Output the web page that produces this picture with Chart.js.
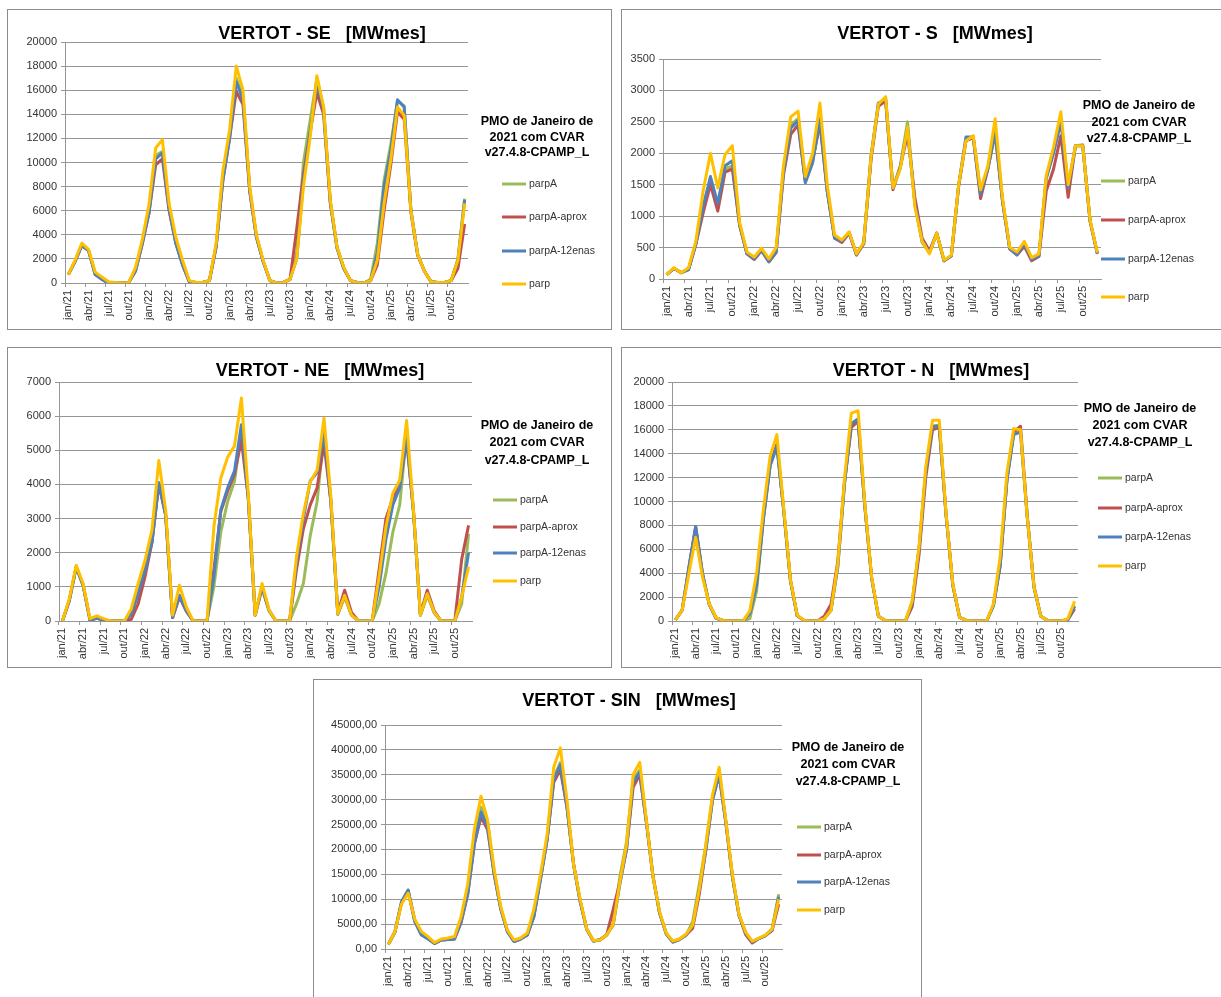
<!DOCTYPE html>
<html>
<head>
<meta charset="utf-8">
<script src="https://cdn.jsdelivr.net/npm/chart.js@4.4.0/dist/chart.umd.min.js"></script>
<style>
  html, body { margin: 0; padding: 0; background: #fff; overflow: hidden; }
  .panel { position: absolute; border: 1px solid #8c8c8c; box-sizing: border-box; background: #fff; overflow: hidden; }
  .panel canvas { display: block; }
</style>
</head>
<body>
<div class="panel" style="left:7px;top:9px;width:605px;height:321px"><canvas id="cSE" width="603" height="319"></canvas></div>
<div class="panel" style="left:621px;top:9px;width:605px;height:321px"><canvas id="cS" width="603" height="319"></canvas></div>
<div class="panel" style="left:7px;top:347px;width:605px;height:321px"><canvas id="cNE" width="603" height="319"></canvas></div>
<div class="panel" style="left:621px;top:347px;width:605px;height:321px"><canvas id="cN" width="603" height="319"></canvas></div>
<div class="panel" style="left:313px;top:679px;width:609px;height:330px"><canvas id="cSIN" width="607" height="328"></canvas></div>

<script>
// eixo x: meses jan/21 .. dez/25
const months = ['jan', 'fev', 'mar', 'abr', 'mai', 'jun', 'jul', 'ago', 'set', 'out', 'nov', 'dez'];
const years = ['21', '22', '23', '24', '25'];
const seriesNames = ['parpA', 'parpA-aprox', 'parpA-12enas', 'parp'];
const legendTitle = ['PMO de Janeiro de', '2021 com CVAR', 'v27.4.8-CPAMP_L'];

// SE
const seParpA = [
    700, 1800, 3200, 2700, 800, 400, 50, 0, 0, 50, 1100, 3400,
    6000, 10600, 10900, 6300, 3500, 1700, 150, 50, 50, 200, 3100, 8900,
    12300, 17000, 15500, 7800, 3900, 1800, 200, 0, 50, 300, 2500, 10000,
    13500, 17000, 14500, 6800, 3000, 1300, 200, 50, 0, 300, 3300, 8500,
    11500, 15100, 14700, 6100, 2400, 1000, 100, 50, 50, 200, 2000, 7000
];
const seAprox = [
    700, 1800, 3100, 2700, 700, 300, 0, 0, 0, 50, 1000, 3200,
    5800, 9800, 10300, 6000, 3300, 1500, 100, 50, 50, 200, 3000, 8500,
    12000, 15900, 14800, 7600, 3800, 1800, 200, 0, 50, 300, 4500, 9000,
    12500, 15800, 14000, 6600, 2900, 1200, 200, 50, 0, 200, 1500, 6000,
    9800, 14200, 13600, 5900, 2300, 1000, 100, 50, 50, 200, 1200, 4900
];
const se12enas = [
    700, 1800, 3100, 2700, 700, 300, 0, 0, 0, 50, 1000, 3300,
    5800, 10300, 10800, 6100, 3300, 1500, 100, 50, 50, 200, 3000, 8500,
    12000, 16700, 15200, 7700, 3800, 1800, 200, 0, 50, 300, 2000, 8500,
    12500, 16600, 14400, 6700, 2900, 1200, 200, 50, 0, 200, 2500, 8000,
    11000, 15200, 14600, 6000, 2400, 1000, 100, 50, 50, 200, 1900, 6900
];
const seParp = [
    700, 1900, 3300, 2800, 900, 500, 100, 50, 0, 50, 1300, 3600,
    6500, 11200, 11900, 6600, 3800, 1900, 200, 50, 50, 200, 3300, 9300,
    12700, 18000, 16000, 8000, 4000, 1900, 200, 0, 50, 300, 2000, 8000,
    12100, 17200, 14600, 6900, 3000, 1300, 200, 50, 0, 200, 1900, 6600,
    10200, 14600, 13900, 6000, 2400, 1000, 100, 50, 50, 200, 1900, 6600
];

// S
const sParpA = [
    70, 170, 100, 160, 560, 1150, 1600, 1150, 1750, 1800, 860, 410,
    330, 470, 290, 450, 1750, 2450, 2550, 1560, 1900, 2450, 1400, 660,
    590, 740, 390, 570, 1950, 2780, 2850, 1450, 1800, 2500, 1200, 580,
    420, 720, 290, 370, 1480, 2200, 2250, 1380, 1750, 2300, 1250, 480,
    400, 560, 320, 380, 1600, 2050, 2550, 1480, 2120, 2120, 920, 410
];
const sAprox = [
    70, 170, 100, 150, 550, 1050, 1500, 1080, 1700, 1750, 850, 400,
    310, 450, 270, 420, 1650, 2300, 2450, 1550, 1880, 2500, 1400, 650,
    580, 730, 380, 560, 1900, 2750, 2830, 1420, 1780, 2300, 1300, 650,
    450, 730, 290, 370, 1480, 2200, 2250, 1280, 1750, 2350, 1250, 480,
    380, 520, 290, 360, 1400, 1750, 2280, 1300, 2120, 2130, 920, 400
];
const s12enas = [
    70, 170, 100, 150, 560, 1150, 1630, 1200, 1800, 1880, 860, 400,
    320, 460, 280, 430, 1700, 2400, 2520, 1530, 1850, 2550, 1400, 650,
    600, 740, 390, 570, 1950, 2800, 2860, 1440, 1770, 2400, 1200, 600,
    420, 730, 290, 370, 1490, 2260, 2260, 1350, 1760, 2350, 1250, 480,
    390, 560, 310, 370, 1600, 2000, 2500, 1450, 2120, 2120, 930, 410
];
const sParp = [
    70, 180, 100, 180, 600, 1400, 2000, 1450, 1980, 2120, 900, 430,
    350, 490, 320, 500, 1800, 2580, 2670, 1630, 2000, 2800, 1500, 700,
    620, 750, 400, 580, 1950, 2780, 2900, 1450, 1750, 2420, 1150, 600,
    400, 730, 300, 380, 1500, 2200, 2280, 1420, 1800, 2550, 1300, 500,
    430, 600, 340, 400, 1650, 2100, 2660, 1500, 2120, 2120, 940, 420
];

// NE
const neParpA = [
    0, 600, 1580, 1050, 30, 80, 30, 0, 0, 0, 200, 800,
    1500, 2300, 4050, 3100, 100, 750, 300, 0, 0, 0, 1000, 2600,
    3500, 4100, 5600, 3600, 170, 950, 300, 0, 0, 0, 500, 1100,
    2500, 3500, 5500, 3500, 200, 700, 170, 0, 0, 0, 500, 1400,
    2600, 3400, 5500, 3200, 170, 750, 250, 0, 0, 0, 500, 2550
];
const neAprox = [
    0, 600, 1580, 1050, 30, 80, 30, 0, 0, 0, 50, 500,
    1300, 2300, 4000, 3100, 100, 700, 280, 0, 0, 0, 1500, 3200,
    3800, 4300, 5300, 3600, 170, 1000, 320, 0, 0, 0, 1500, 2700,
    3400, 3900, 5200, 3500, 250, 900, 250, 0, 0, 0, 1500, 3000,
    3600, 4000, 5300, 3200, 200, 900, 300, 0, 0, 0, 1800, 2800
];
const ne12enas = [
    0, 600, 1580, 1050, 30, 80, 30, 0, 0, 0, 200, 800,
    1500, 2300, 4050, 3100, 100, 750, 300, 0, 0, 0, 1300, 3250,
    3900, 4400, 5750, 3600, 170, 1000, 320, 0, 0, 0, 1700, 3000,
    4100, 4350, 5500, 3500, 200, 750, 170, 0, 0, 0, 1000, 2400,
    3400, 3900, 5400, 3200, 170, 800, 250, 0, 0, 0, 700, 2000
];
const neParp = [
    0, 650, 1630, 1100, 70, 150, 70, 0, 0, 0, 360, 1100,
    1780, 2660, 4700, 3250, 170, 1050, 410, 0, 0, 0, 2760, 4180,
    4800, 5130, 6530, 3740, 170, 1100, 330, 0, 0, 0, 1880, 3150,
    4080, 4420, 5940, 3640, 215, 750, 170, 0, 0, 0, 1300, 2760,
    3740, 4130, 5870, 3250, 170, 800, 260, 0, 0, 0, 700, 1590
];

// N
const nParpA = [
    100, 900, 4300, 7800, 3900, 1400, 250, 50, 0, 0, 0, 200,
    2500, 8500, 13000, 14700, 9300, 3400, 450, 50, 0, 0, 200, 900,
    4600, 11600, 16500, 16900, 9600, 3600, 400, 50, 0, 0, 0, 1600,
    6000, 12500, 16300, 16400, 8900, 3000, 300, 50, 0, 0, 0, 1300,
    4700, 11800, 15700, 15900, 8700, 2800, 400, 50, 0, 0, 100, 1300
];
const nAprox = [
    100, 900, 4500, 7900, 4000, 1400, 250, 50, 0, 0, 0, 700,
    3200, 8600, 13100, 14800, 9300, 3400, 450, 50, 0, 0, 400, 1400,
    5000, 11700, 16200, 16700, 9600, 3600, 400, 50, 0, 0, 0, 1200,
    5500, 12000, 16000, 16200, 8900, 3000, 300, 50, 0, 0, 0, 1300,
    4700, 11900, 15800, 16300, 8800, 2900, 400, 50, 0, 0, 100, 1000
];
const n12enas = [
    100, 900, 4500, 7900, 4000, 1400, 250, 50, 0, 0, 0, 600,
    3000, 8500, 13000, 14600, 9300, 3400, 450, 50, 0, 0, 200, 900,
    4500, 11500, 16500, 16900, 9600, 3600, 400, 50, 0, 0, 0, 1500,
    6000, 12500, 16300, 16300, 8900, 3000, 300, 50, 0, 0, 0, 1300,
    4600, 11800, 15600, 15800, 8700, 2800, 400, 50, 0, 0, 100, 1200
];
const nParp = [
    100, 900, 4000, 7000, 3700, 1450, 280, 50, 0, 0, 0, 850,
    4000, 9300, 13800, 15600, 9500, 3500, 500, 50, 0, 0, 200, 900,
    4800, 12000, 17400, 17600, 9800, 3700, 400, 50, 0, 0, 0, 1700,
    6200, 12900, 16800, 16800, 9000, 3100, 300, 50, 0, 0, 0, 1450,
    5400, 12400, 16100, 16000, 8700, 2850, 400, 50, 0, 0, 200, 1650
];

// SIN
const sinParpA = [
    900, 3500, 9500, 11900, 5800, 3000, 2200, 1100, 1800, 1900, 2100, 5600,
    11500, 22000, 28500, 25500, 15500, 8200, 3600, 1600, 2000, 2800, 6500, 14000,
    22000, 34500, 37500, 29000, 17000, 9700, 3900, 1600, 1850, 2900, 4800, 14500,
    21500, 34000, 36000, 25800, 14800, 7300, 3100, 1500, 1900, 2800, 5500, 13000,
    21000, 30500, 35500, 25800, 14700, 6900, 3300, 1500, 2100, 2700, 4000, 11000
];
const sinAprox = [
    900, 3400, 9300, 11600, 5600, 2900, 2100, 1100, 1800, 1900, 2000, 5300,
    11000, 21000, 26500, 24000, 15000, 8000, 3500, 1500, 2000, 2800, 6700, 14200,
    22000, 33500, 36000, 28500, 17000, 9500, 3900, 1600, 1850, 2800, 8000, 13500,
    20000, 32500, 35000, 25500, 14600, 7200, 3100, 1400, 1900, 2800, 4200, 11000,
    20000, 30000, 35000, 25500, 14600, 6800, 2900, 1200, 2100, 2700, 3700, 9000
];
const sin12enas = [
    900, 3400, 9500, 11800, 5500, 2800, 2000, 1100, 1800, 1900, 2000, 5500,
    11000, 21000, 27500, 24500, 15000, 8000, 3500, 1500, 2000, 2800, 6500, 14000,
    22000, 34000, 37000, 28500, 17000, 9500, 4000, 1600, 1800, 2800, 5000, 13000,
    20000, 33500, 35500, 25500, 14500, 7200, 3000, 1400, 1900, 2800, 4800, 12000,
    20000, 30000, 35000, 25500, 14500, 6800, 3200, 1400, 2100, 2700, 3800, 10500
];
const sinParp = [
    900, 3500, 9000, 11200, 6000, 3500, 2500, 1300, 2000, 2200, 2500, 6500,
    13000, 24000, 30700, 26000, 16000, 8500, 3800, 1800, 2200, 3200, 8000, 15000,
    23000, 36500, 40400, 30000, 17000, 10000, 4000, 1700, 1800, 2800, 5000, 13500,
    21000, 35000, 37500, 26000, 14500, 7500, 3200, 1600, 2000, 3000, 4800, 12000,
    21000, 31000, 36500, 26000, 15000, 7000, 3400, 1600, 2200, 2800, 4000, 10000
];

const monthLabels = [];
years.forEach(y => months.forEach(m => monthLabels.push(m + '/' + y)));

const colors = ['#9bbb59', '#c0504d', '#4f81bd', '#ffc000'];
const gridGray = '#969696';
const fontFamily = '"Liberation Sans", Arial, sans-serif';
Chart.defaults.font.family = fontFamily;

// titulo e legenda desenhados no canvas (posicoes em coordenadas da pagina)
const panelDeco = {
    id: 'panelDeco',
    afterDraw(chart, args, o) {
        const ctx = chart.ctx;
        ctx.save();
        ctx.fillStyle = '#000';
        ctx.textAlign = 'center';
        ctx.textBaseline = 'alphabetic';
        ctx.font = 'bold 18px ' + fontFamily;
        ctx.fillText(o.title, o.titleX - o.ox, o.titleY - o.oy);

        ctx.textBaseline = 'middle';
        ctx.font = 'bold 12.5px ' + fontFamily;
        legendTitle.forEach((line, i) => ctx.fillText(line, o.legX - o.ox, o.legTitleY[i] - o.oy));

        ctx.textAlign = 'left';
        ctx.font = '10.5px ' + fontFamily;
        seriesNames.forEach((name, i) => {
            const y = o.itemY[i] - o.oy;
            ctx.strokeStyle = colors[i];
            ctx.lineWidth = 3;
            ctx.beginPath();
            ctx.moveTo(o.lineX - o.ox, y);
            ctx.lineTo(o.lineX + 24 - o.ox, y);
            ctx.stroke();
            ctx.fillStyle = '#333';
            ctx.fillText(name, o.lineX + 27 - o.ox, y);
        });
        ctx.restore();
    }
};

function drawPanel(id, series, yMax, yStep, decimals, g) {
    const datasets = series.map((data, i) => ({
        label: seriesNames[i],
        data: data,
        borderColor: colors[i],
        backgroundColor: colors[i],
        borderWidth: 3,
        borderJoinStyle: 'round',
        pointRadius: 0,
        tension: 0,
        fill: false,
        order: 4 - i
    }));
    new Chart(document.getElementById(id).getContext('2d'), {
        type: 'line',
        data: { labels: monthLabels, datasets: datasets },
        plugins: [panelDeco],
        options: {
            responsive: false,
            animation: false,
            events: [],
            layout: { padding: { top: g.padTop, right: g.padRight, left: 0, bottom: 0 } },
            plugins: {
                legend: { display: false },
                tooltip: { enabled: false },
                title: { display: false },
                panelDeco: g.deco
            },
            scales: {
                x: {
                    type: 'category',
                    offset: true,
                    grid: {
                        offset: true,
                        drawOnChartArea: false,
                        drawTicks: true,
                        tickLength: 4,
                        color: c => (c.index % 3 === 0 ? gridGray : 'rgba(0,0,0,0)')
                    },
                    border: { display: true, color: gridGray },
                    ticks: {
                        autoSkip: false,
                        minRotation: 90,
                        maxRotation: 90,
                        padding: 3,
                        color: '#333',
                        font: { size: 11 },
                        callback: (v, i) => (i % 3 === 0 ? monthLabels[i] : '')
                    },
                    afterFit: s => { s.height = g.xh; }
                },
                y: {
                    min: 0,
                    max: yMax,
                    grid: { color: gridGray, drawTicks: true, tickLength: 4 },
                    border: { display: true, color: gridGray },
                    ticks: {
                        stepSize: yStep,
                        padding: 4,
                        color: '#333',
                        font: { size: 11 },
                        callback: v => (decimals ? v.toFixed(2).replace('.', ',') : String(v))
                    },
                    afterFit: s => { s.width = g.yw; }
                }
            }
        }
    });
}

drawPanel('cSE', [seParpA, seAprox, se12enas, seParp], 20000, 2000, false, {
    yw: 57, xh: 46, padTop: 32, padRight: 143,
    deco: { ox: 8, oy: 10, title: 'VERTOT - SE   [MWmes]', titleX: 322, titleY: 39,
        legX: 537, legTitleY: [122, 138, 153], lineX: 502, itemY: [184, 217, 251, 284] }
});

drawPanel('cS', [sParpA, sAprox, s12enas, sParp], 3500, 500, false, {
    yw: 41, xh: 50, padTop: 49, padRight: 124,
    deco: { ox: 622, oy: 10, title: 'VERTOT - S   [MWmes]', titleX: 935, titleY: 39,
        legX: 1139, legTitleY: [106, 123, 139], lineX: 1101, itemY: [181, 220, 259, 297] }
});

drawPanel('cNE', [neParpA, neAprox, ne12enas, neParp], 7000, 1000, false, {
    yw: 51, xh: 46, padTop: 34, padRight: 139,
    deco: { ox: 8, oy: 348, title: 'VERTOT - NE   [MWmes]', titleX: 320, titleY: 376,
        legX: 537, legTitleY: [426, 443, 461], lineX: 493, itemY: [500, 527, 553, 581] }
});

drawPanel('cN', [nParpA, nAprox, n12enas, nParp], 20000, 2000, false, {
    yw: 50, xh: 46, padTop: 34, padRight: 147,
    deco: { ox: 622, oy: 348, title: 'VERTOT - N   [MWmes]', titleX: 931, titleY: 376,
        legX: 1140, legTitleY: [409, 426, 443], lineX: 1098, itemY: [478, 508, 537, 566] }
});

drawPanel('cSIN', [sinParpA, sinAprox, sin12enas, sinParp], 45000, 5000, true, {
    yw: 71, xh: 59, padTop: 45, padRight: 139,
    deco: { ox: 314, oy: 680, title: 'VERTOT - SIN   [MWmes]', titleX: 629, titleY: 706,
        legX: 848, legTitleY: [748, 765, 782], lineX: 797, itemY: [827, 855, 882, 910] }
});
</script>
</body>
</html>
